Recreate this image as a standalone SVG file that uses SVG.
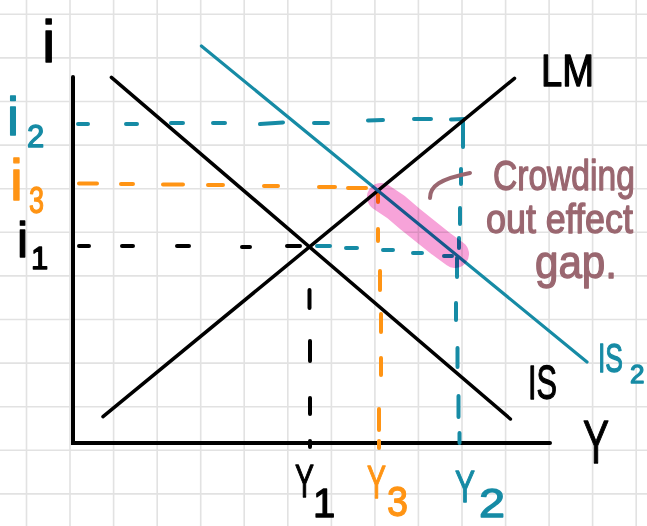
<svg xmlns="http://www.w3.org/2000/svg" width="647" height="526" viewBox="0 0 647 526">
<style>
.grid{stroke:#e2e2e2;stroke-width:1.6;fill:none}
.ax{stroke:#000;stroke-width:4;fill:none;stroke-linecap:round}
.crv{stroke:#000;stroke-width:3.5;fill:none;stroke-linecap:round}
.crv2{stroke:#168ba5;stroke-width:3.2;fill:none;stroke-linecap:round}
.dk{stroke:#000;stroke-width:4;fill:none;stroke-linecap:round}
.dt{stroke:#168ba5;stroke-width:4;fill:none;stroke-linecap:round}
.do{stroke:#ff9414;stroke-width:4;fill:none;stroke-linecap:round}
text{font-family:"Liberation Sans","DejaVu Sans",sans-serif;stroke-width:1.3;stroke-linejoin:round}
.k{fill:#000;stroke:#000}.t{fill:#168ba5;stroke:#168ba5}.o{fill:#ff9414;stroke:#ff9414}.m{fill:#9a6770;stroke:#9a6770}
</style>
<rect width="647" height="526" fill="#fff"/>
<g id="grid" class="grid">
<path d="M26.5,0V526M70,0V526M113.6,0V526M157.2,0V526M200.7,0V526M244.2,0V526M287.8,0V526M331.4,0V526M374.9,0V526M418.4,0V526M462,0V526M505.6,0V526M549.1,0V526M592.6,0V526M636.2,0V526"/>
<path d="M0,14.3H647M0,57.9H647M0,101.5H647M0,145.1H647M0,188.7H647M0,232.3H647M0,275.9H647M0,319.5H647M0,363.1H647M0,406.7H647M0,450.3H647M0,493.9H647"/>
</g>
<g id="axes">
<path class="ax" d="M73,77V443H550"/>
</g>
<g id="connectors">
<g id="i1-guide">
<path class="dk" d="M79,246H89M122,246H133M177,246H189M242,247H250M287,246H300"/>
<path class="dk" d="M309.5,290V308M310,341V361M310,398V414M310,441V447"/>
</g>
<g id="i3-guide">
<path class="do" d="M79,183.5H97M121,184H133M163,184.5H183M208,185H223M264,186H278M319,187H335M348,188H366"/>
<path class="do" d="M378,191V202M378,229V241M380,271V290M381,314V332M381,358V375M379,409V430M379,441V448"/>
</g>
<g id="i2-guide">
<path class="dt" d="M78,124H88M126,124H137M171,123H183M213,123H225M260,124L283,122.5M314,123H328M368,120.5L383,120M414,119H431M451,119.5L463,119V147"/>
<path class="dt" d="M461,169V184M460,208V224M459,238V248M457,258V277M456,303V320M457.5,348V367M458.5,396V417M459.5,433V443"/>
<path class="dt" d="M317,246H330M346,248H357M383,250H393M413,253H422M444,256H452"/>
</g>
</g>
<g id="IS">
<path class="crv" d="M111.4,77.3L510.4,419"/>
<text class="k" x="528" y="399" font-size="48" textLength="29" lengthAdjust="spacingAndGlyphs">IS</text>
</g>
<g id="LM">
<path class="crv" d="M103,416.7L514.5,78.3"/>
<text class="k" x="541" y="86" font-size="44" textLength="53" lengthAdjust="spacingAndGlyphs">LM</text>
</g>
<g id="IS2">
<path class="crv2" d="M201.4,46L587,362"/>
<text class="t"><tspan x="598" y="372" font-size="41" textLength="25" lengthAdjust="spacingAndGlyphs">IS</tspan><tspan x="630" y="383" font-size="26">2</tspan></text>
</g>
<g id="gap-highlight">
<path d="M381,197L396,207L410,219L425,231L440,243L455,254" stroke="#f7a3d9" stroke-width="28" stroke-linecap="round" stroke-linejoin="round" fill="none" style="mix-blend-mode:multiply"/>
</g>
<g id="axis-labels">
<text class="k" x="42" y="62" font-size="60">i</text>
<text class="k" x="583" y="463" font-size="62" textLength="26" lengthAdjust="spacingAndGlyphs">Y</text>
</g>
<g id="i-labels">
<text class="t"><tspan x="7" y="135" font-size="54">i</tspan><tspan x="27" y="147" font-size="31">2</tspan></text>
<text class="o"><tspan x="10" y="200" font-size="58">i</tspan><tspan x="29" y="213" font-size="36" textLength="15" lengthAdjust="spacingAndGlyphs">3</tspan></text>
<text class="k"><tspan x="17" y="257" font-size="50">i</tspan><tspan x="31" y="269" font-size="31">1</tspan></text>
</g>
<g id="y-labels">
<text class="k"><tspan x="295" y="497" font-size="47" textLength="19" lengthAdjust="spacingAndGlyphs">Y</tspan><tspan x="313" y="517" font-size="40">1</tspan></text>
<text class="o"><tspan x="367" y="498" font-size="46" textLength="19" lengthAdjust="spacingAndGlyphs">Y</tspan><tspan x="387" y="516" font-size="43" textLength="21" lengthAdjust="spacingAndGlyphs">3</tspan></text>
<text class="t"><tspan x="455" y="502" font-size="45" textLength="20" lengthAdjust="spacingAndGlyphs">Y</tspan><tspan x="479" y="517" font-size="40" textLength="26" lengthAdjust="spacingAndGlyphs">2</tspan></text>
</g>
<g id="annotation">
<path d="M430,198C430,186 440,179 470,173" stroke="#9a6770" stroke-width="4" fill="none" stroke-linecap="round"/>
<text class="m" transform="translate(493,190) scale(0.8,1)" font-size="42">Crowding</text>
<text class="m" transform="translate(486,233) scale(0.897,1)" font-size="40">out effect</text>
<text class="m" x="535" y="278" font-size="46" textLength="82" lengthAdjust="spacingAndGlyphs">gap.</text>
</g>
</svg>
